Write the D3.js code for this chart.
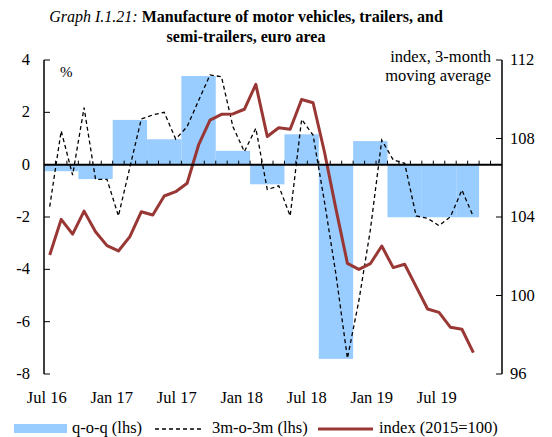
<!DOCTYPE html>
<html>
<head>
<meta charset="utf-8">
<script src="https://cdn.jsdelivr.net/npm/d3@7"></script>
<style>
  body { margin: 0; background: #fff; }
  svg { display: block; font-family: "Liberation Serif", "DejaVu Serif", serif; }
</style>
</head>
<body>
<svg id="chart" width="552" height="437"></svg>
<script>
// months on the category axis (Jul 16 .. Oct 19)
var months = d3.timeMonth.range(new Date(2016, 6, 1), new Date(2019, 10, 1));

// q-o-q, quarterly (lhs); last quarter has only Jul-Aug 19
var quarterLabels = ["Q3 16", "Q4 16", "Q1 17", "Q2 17", "Q3 17", "Q4 17", "Q1 18",
  "Q2 18", "Q3 18", "Q4 18", "Q1 19", "Q2 19", "Q3 19"];
var qoq = [-0.25, -0.55, 1.71, 0.97, 3.39, 0.53, -0.75, 1.16, -7.42, 0.9, -2.01, -2.01, -2.01];

// 3m-o-3m, monthly Jul 16 .. Aug 19 (lhs)
var m3o3 = [-1.6, 1.29, -0.4, 2.18, -0.56, -0.56, -1.96, -0.1, 1.75, 1.9, 2.0, 0.98,
  1.45, 2.45, 3.43, 3.36, 1.45, 0.5, 1.39, -0.95, -0.81, -1.96, 1.73, 1.13,
  -1.43, -4.2, -7.4, -5.2, -2.5, 0.94, 0.18, 0.05, -1.96, -2.05, -2.33, -1.99, -0.97, -1.99];

// index 2015=100, 3-month moving average (rhs)
var indexVals = [102.06, 103.88, 103.13, 104.3, 103.25, 102.54, 102.27, 103.0, 104.27, 104.1,
  105.07, 105.29, 105.72, 107.67, 108.94, 109.23, 109.25, 109.49, 110.76, 108.1,
  108.55, 108.47, 109.99, 109.82, 107.3, 104.4, 101.64, 101.33, 101.62, 102.52,
  101.42, 101.59, 100.45, 99.31, 99.14, 98.38, 98.28, 97.09];

var xLabels = ["Jul 16", "Jan 17", "Jul 17", "Jan 18", "Jul 18", "Jan 19", "Jul 19"];
var leftTicks = [4, 2, 0, -2, -4, -6, -8];
var rightTicks = [112, 108, 104, 100, 96];

var svg = d3.select("#chart");
var plotL = 44, plotR = 502, plotT = 60, plotB = 374;

var x = d3.scaleBand().domain(d3.range(months.length)).range([plotL, plotR]).padding(0);
var yL = d3.scaleLinear().domain([-8, 4]).range([plotB, plotT]);
var yR = d3.scaleLinear().domain([96, 112]).range([plotB, plotT]);
var xLab = d3.scalePoint().domain(xLabels).range([46.7, 436.7]);

// title
var title = svg.append("text").attr("x", 246).attr("y", 22).attr("text-anchor", "middle")
  .style("font-size", "16px");
title.append("tspan").style("font-style", "italic").text("Graph I.1.21: ");
title.append("tspan").style("font-weight", "bold").text("Manufacture of motor vehicles, trailers, and");
svg.append("text").attr("x", 246).attr("y", 42).attr("text-anchor", "middle")
  .style("font-size", "16px").style("font-weight", "bold").text("semi-trailers, euro area");

// bars
svg.append("g").selectAll("rect")
  .data(qoq)
  .enter().append("rect")
  .attr("x", function (d, i) { return x(i * 3); })
  .attr("width", function (d, i) {
    var last = Math.min(i * 3 + 2, m3o3.length - 1);
    return x(last) + x.bandwidth() - x(i * 3);
  })
  .attr("y", function (d) { return yL(Math.max(0, d)); })
  .attr("height", function (d) { return Math.abs(yL(d) - yL(0)); })
  .attr("fill", "#99ccff");

// axes
var axes = svg.append("g").attr("stroke", "#000");
axes.append("line").attr("x1", plotL).attr("x2", plotL).attr("y1", plotT).attr("y2", plotB).attr("stroke-width", 1.5);
axes.append("line").attr("x1", plotR).attr("x2", plotR).attr("y1", plotT).attr("y2", plotB).attr("stroke-width", 1.5);
axes.selectAll(".lt").data(leftTicks).enter().append("line")
  .attr("x1", plotL).attr("x2", plotL + 6)
  .attr("y1", function (d) { return yL(d); }).attr("y2", function (d) { return yL(d); });
axes.selectAll(".rt").data(rightTicks).enter().append("line")
  .attr("x1", plotR - 6).attr("x2", plotR)
  .attr("y1", function (d) { return yR(d); }).attr("y2", function (d) { return yR(d); });
axes.selectAll(".mt").data(d3.range(1, months.length)).enter().append("line")
  .attr("x1", function (d) { return x(d); }).attr("x2", function (d) { return x(d); })
  .attr("y1", yL(0)).attr("y2", yL(0) - 4);

// lines
var line3m = d3.line().x(function (d, i) { return x(i) + x.bandwidth() / 2; }).y(function (d) { return yL(d); });
svg.append("path").datum(m3o3).attr("d", line3m).attr("fill", "none")
  .attr("stroke", "#000").attr("stroke-width", 1.3).attr("stroke-dasharray", "4,3");

var lineIdx = d3.line().x(function (d, i) { return x(i) + x.bandwidth() / 2; }).y(function (d) { return yR(d); });
svg.append("path").datum(indexVals).attr("d", lineIdx).attr("fill", "none")
  .attr("stroke", "#993735").attr("stroke-width", 3).attr("stroke-linejoin", "round");

// zero line on top
svg.append("line").attr("x1", plotL).attr("x2", plotR).attr("y1", yL(0)).attr("y2", yL(0))
  .attr("stroke", "#000").attr("stroke-width", 2);

// tick labels
svg.append("g").selectAll("text").data(leftTicks).enter().append("text")
  .attr("x", 30).attr("y", function (d) { return yL(d) + 5; })
  .attr("text-anchor", "end").style("font-size", "16.5px").text(function (d) { return d; });
svg.append("g").selectAll("text").data(rightTicks).enter().append("text")
  .attr("x", 510).attr("y", function (d) { return yR(d) + 5; })
  .style("font-size", "16.5px").text(function (d) { return d; });
svg.append("g").selectAll("text").data(xLabels).enter().append("text")
  .attr("x", function (d) { return xLab(d); }).attr("y", 403)
  .attr("text-anchor", "middle").style("font-size", "16.5px").text(function (d) { return d; });

svg.append("text").attr("x", 60).attr("y", 77).style("font-size", "15px").text("%");
svg.append("text").attr("x", 491).attr("y", 62).attr("text-anchor", "end").style("font-size", "16.5px").text("index, 3-month");
svg.append("text").attr("x", 491).attr("y", 81).attr("text-anchor", "end").style("font-size", "16.5px").text("moving average");

// legend
var lg = svg.append("g");
lg.append("rect").attr("x", 14).attr("y", 424).attr("width", 53).attr("height", 9).attr("fill", "#99ccff");
lg.append("text").attr("x", 72).attr("y", 433).style("font-size", "16.5px").text("q-o-q (lhs)");
lg.append("line").attr("x1", 155).attr("x2", 203).attr("y1", 429).attr("y2", 429)
  .attr("stroke", "#000").attr("stroke-width", 1.3).attr("stroke-dasharray", "4,3");
lg.append("text").attr("x", 212).attr("y", 433).style("font-size", "16.5px").text("3m-o-3m (lhs)");
lg.append("line").attr("x1", 318).attr("x2", 373).attr("y1", 429).attr("y2", 429)
  .attr("stroke", "#993735").attr("stroke-width", 3);
lg.append("text").attr("x", 379).attr("y", 433).style("font-size", "16.5px").text("index (2015=100)");
</script>
</body>
</html>
